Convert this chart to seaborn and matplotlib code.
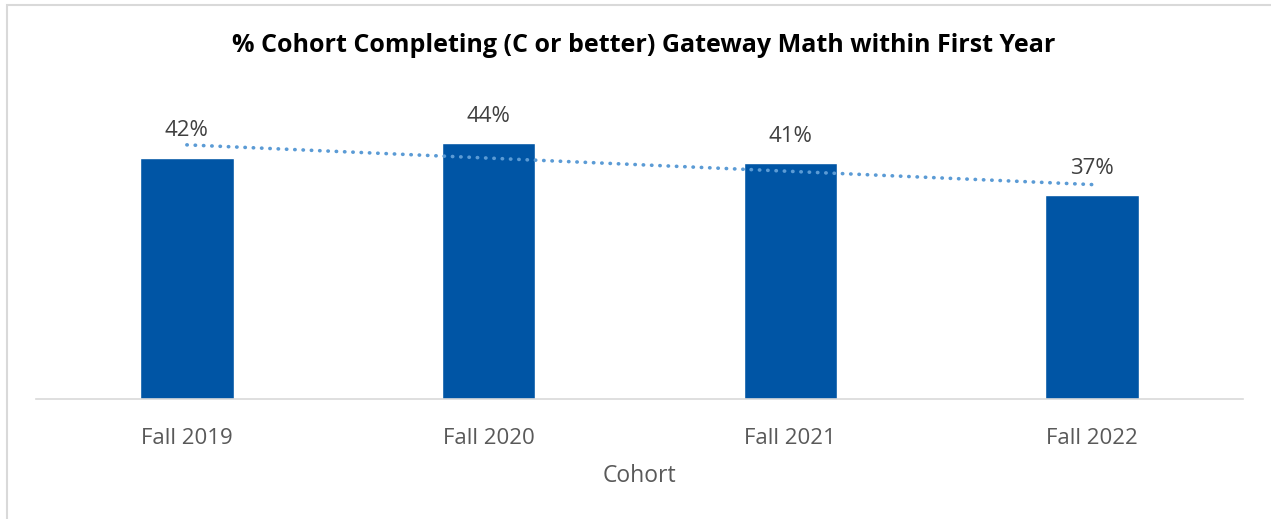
import numpy as np
import pandas as pd
import matplotlib.pyplot as plt
import seaborn as sb
from matplotlib.patches import Rectangle

cohorts = ["Fall 2019", "Fall 2020", "Fall 2021", "Fall 2022"]
pct_complete = [0.422, 0.441, 0.4145, 0.372]
title = "% Cohort Completing (C or better) Gateway Math within First Year"

bar_color = "#0055A5"
trend_color = "#5B9BD5"

sb.set_style("white")
plt.rcParams['font.family'] = ['Open Sans', 'DejaVu Sans']

df = pd.DataFrame({"Cohort": cohorts, "Pct": pct_complete})

fig = plt.figure(figsize=(12.71, 5.19), dpi=100)
ax = fig.add_axes([36 / 1271, 120 / 519, 1207 / 1271, 300 / 519])

sb.barplot(data=df, x="Cohort", y="Pct", color=bar_color, saturation=1,
           width=0.31, ax=ax)

# linear trendline like excel
xs = np.arange(len(cohorts))
slope, icpt = np.polyfit(xs, pct_complete, 1)
ax.plot(xs, slope * xs + icpt, color=trend_color, linewidth=2.6,
        linestyle=(0, (0.1, 2.2)), dash_capstyle="round", zorder=3)

for i, v in enumerate(pct_complete):
    ax.text(i, v + 0.022, f"{v:.0%}", ha="center", va="bottom",
            fontsize=16, color="#404040")

ax.set_ylim(0.10, 0.50)
ax.set_xlim(-0.5, 3.5)
ax.set_yticks([])
ax.set_ylabel("")
ax.set_xlabel("Cohort", fontsize=16.5, color="#595959", labelpad=11)
ax.tick_params(axis="x", labelsize=16, labelcolor="#595959", length=0, pad=21)
for s in ["top", "right", "left"]:
    ax.spines[s].set_visible(False)
ax.spines["bottom"].set_color("#D9D9D9")
ax.spines["bottom"].set_linewidth(1.2)

fig.text(644 / 1271, 1 - 45 / 519, title, ha="center", va="center",
         fontsize=18, fontweight="bold", color="black")

# chart frame (right/bottom edges are off the image)
fig.patches.append(Rectangle((7 / 1271, -0.1), 1.2, (514 / 519) + 0.1,
                             transform=fig.transFigure, fill=False,
                             edgecolor="#D9D9D9", linewidth=1.5))

fig.savefig("out.png", dpi=100)
